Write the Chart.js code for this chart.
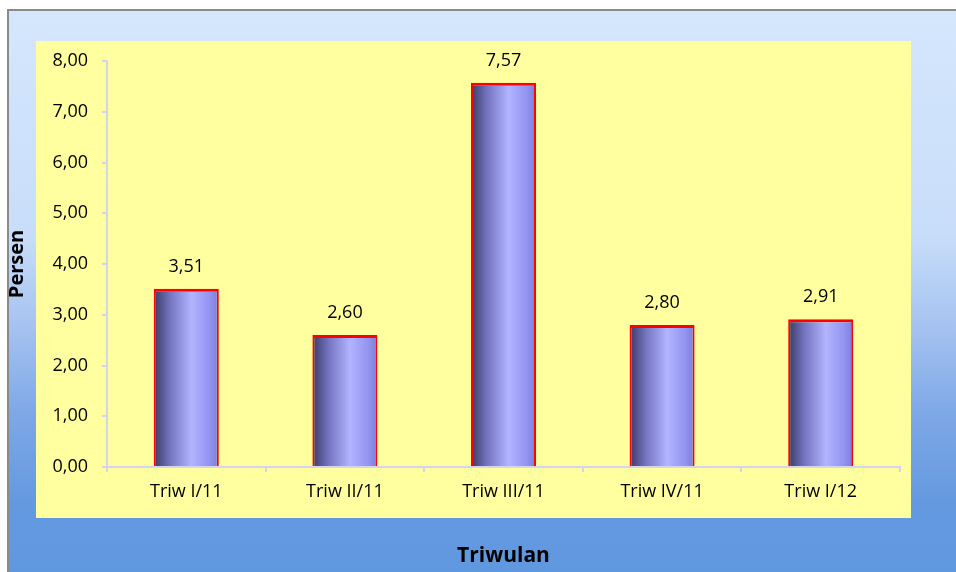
<!DOCTYPE html>
<html>
<head>
<meta charset="utf-8">
<script src="https://cdn.jsdelivr.net/npm/chart.js@4/dist/chart.umd.min.js"></script>
<style>
  html, body { margin: 0; padding: 0; background: #fff; }
  #wrap { width: 956px; height: 572px; }
</style>
</head>
<body>
<div id="wrap"><canvas id="c" width="956" height="572"></canvas></div>
<script>
const categories = ["Triw I/11", "Triw II/11", "Triw III/11", "Triw IV/11", "Triw I/12"];
const values = [3.51, 2.60, 7.57, 2.80, 2.91];
const yTicks = [0, 1, 2, 3, 4, 5, 6, 7, 8];

const FONT = "'Open Sans', 'Liberation Sans', sans-serif";
const fmt = v => v.toFixed(2).replace(".", ",");

// background, border and yellow plot panel
const backdrop = {
  id: "backdrop",
  beforeDraw(chart) {
    const ctx = chart.ctx;
    const g = ctx.createLinearGradient(0, 10, 0, 572);
    g.addColorStop(0, "#d5e7fd");
    g.addColorStop(0.4, "#c8ddf9");
    g.addColorStop(0.56, "#a6c3f0");
    g.addColorStop(0.72, "#7ea7e6");
    g.addColorStop(0.88, "#6399df");
    g.addColorStop(1, "#6098df");
    ctx.save();
    ctx.fillStyle = "#fff";
    ctx.fillRect(0, 0, 956, 572);
    ctx.fillStyle = g;
    ctx.fillRect(8, 10, 948, 562);
    ctx.strokeStyle = "#8a8a8a";
    ctx.lineWidth = 2;
    ctx.beginPath();
    ctx.moveTo(8, 572);
    ctx.lineTo(8, 10);
    ctx.lineTo(956, 10);
    ctx.stroke();
    ctx.fillStyle = "#ffff9f";
    ctx.fillRect(36, 41, 875, 477);
    ctx.restore();
  }
};

// value labels above the bars
const valueLabels = {
  id: "valueLabels",
  afterDatasetsDraw(chart) {
    const ctx = chart.ctx;
    ctx.save();
    ctx.font = "18px " + FONT;
    ctx.fillStyle = "#000";
    ctx.textAlign = "center";
    ctx.textBaseline = "bottom";
    chart.getDatasetMeta(0).data.forEach((bar, i) => {
      ctx.fillText(fmt(values[i]), bar.x, bar.y - 13);
    });
    ctx.restore();
  }
};

function barFill(c) {
  const chart = c.chart;
  const sx = chart.scales.x;
  if (!sx || !chart.chartArea) return "#9a9af0";
  const w = sx.width / categories.length * 0.41;
  const cx = sx.getPixelForValue(c.dataIndex);
  const g = chart.ctx.createLinearGradient(cx - w / 2, 0, cx + w / 2, 0);
  g.addColorStop(0, "#3a3a66");
  g.addColorStop(0.25, "#7474c0");
  g.addColorStop(0.58, "#b2b4ff");
  g.addColorStop(0.85, "#9494f2");
  g.addColorStop(1, "#7c7cd8");
  return g;
}

new Chart(document.getElementById("c"), {
  type: "bar",
  data: {
    labels: categories,
    datasets: [{
      data: values,
      backgroundColor: barFill,
      borderColor: "#ff0000",
      borderWidth: { top: 3, left: 2, right: 2, bottom: 0 },
      borderSkipped: false,
      barPercentage: 0.41,
      categoryPercentage: 1
    }]
  },
  options: {
    responsive: false,
    animation: false,
    events: [],
    layout: { padding: { left: 0, top: 61, right: 56, bottom: 0 } },
    plugins: { legend: { display: false }, tooltip: { enabled: false } },
    scales: {
      x: {
        grid: { drawOnChartArea: false, tickLength: 5, color: "#d4d4f0", lineWidth: 2, offset: true },
        border: { color: "#d4d4f0", width: 2 },
        ticks: { color: "#000", font: { family: FONT, size: 18 }, padding: 9, maxRotation: 0 },
        title: { display: true, text: "Triwulan", color: "#000", font: { family: FONT, size: 21, weight: "bold" }, padding: { bottom: 3 } },
        afterFit: s => { s.height = 105; }
      },
      y: {
        min: 0,
        max: 8,
        afterBuildTicks: s => { s.ticks = yTicks.map(v => ({ value: v })); },
        grid: { drawOnChartArea: false, tickLength: 5, color: "#d4d4f0", lineWidth: 2 },
        border: { color: "#d4d4f0", width: 2 },
        ticks: { color: "#000", font: { family: FONT, size: 18 }, padding: 14, callback: v => fmt(v) },
        title: { display: true, text: "Persen", color: "#000", font: { family: FONT, size: 20, weight: "bold" }, padding: { top: 5 } },
        afterFit: s => { s.width = 107; }
      }
    }
  },
  plugins: [backdrop, valueLabels]
});
</script>
</body>
</html>
